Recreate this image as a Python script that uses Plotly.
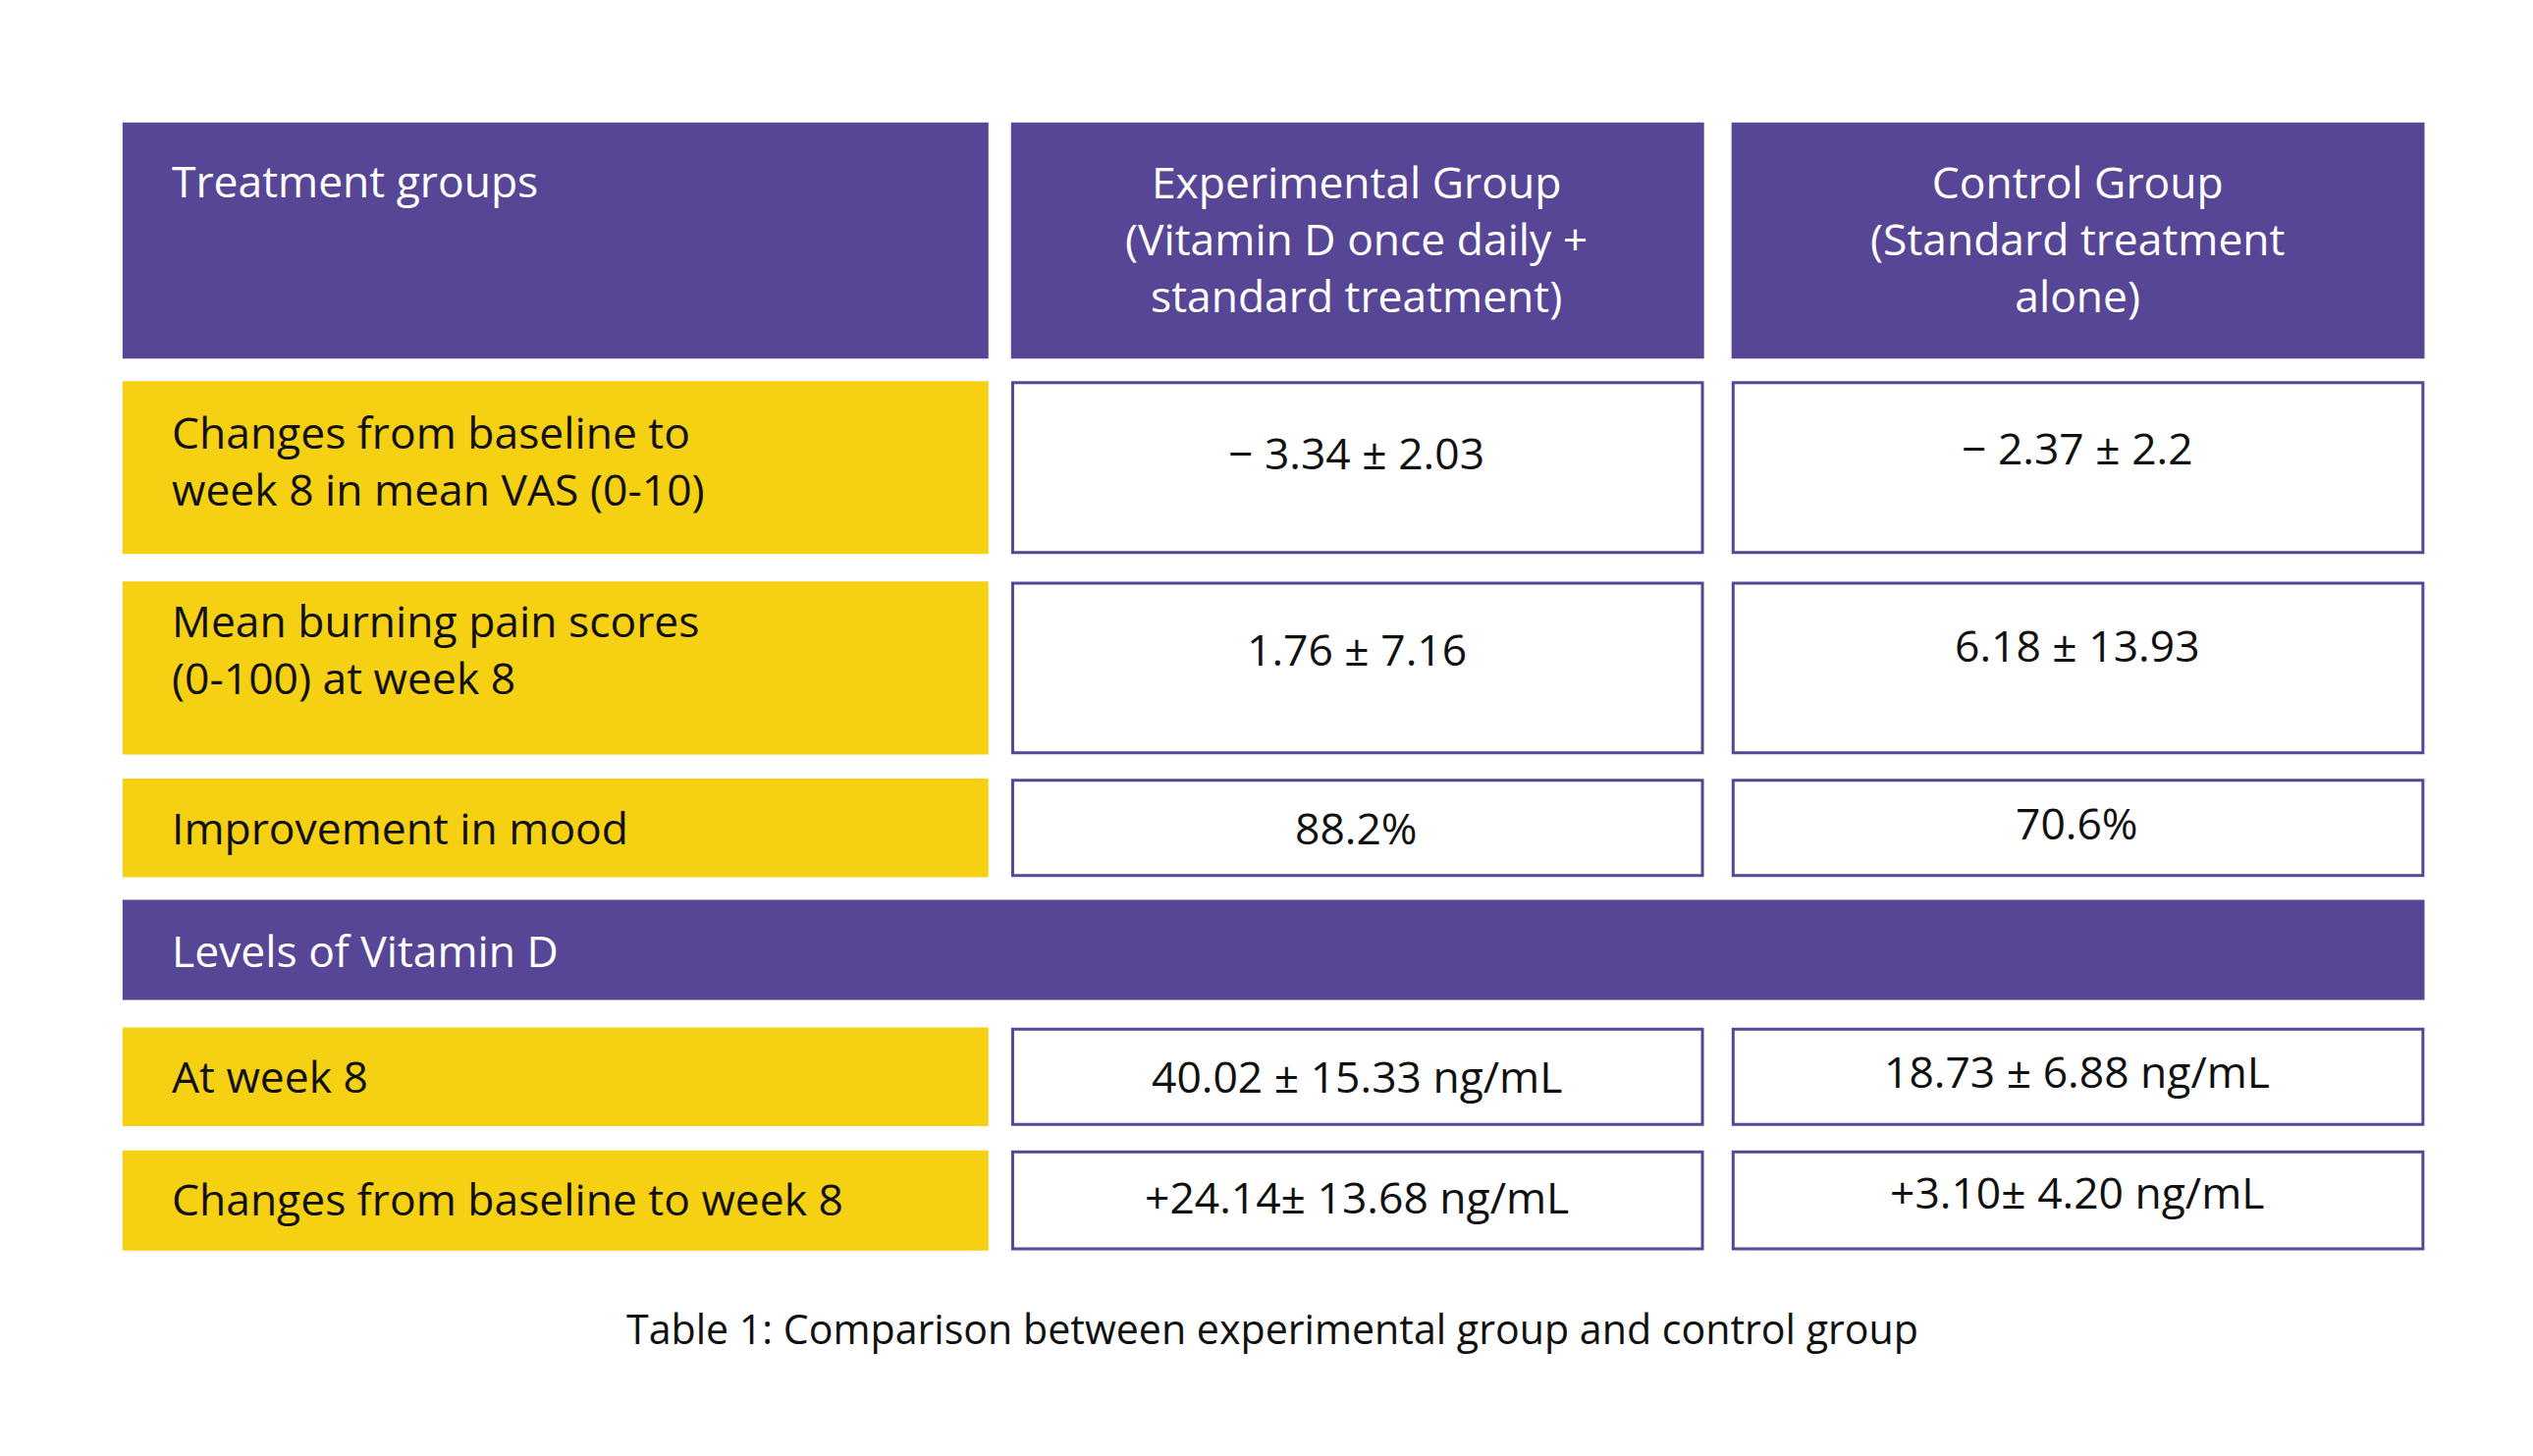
import plotly.graph_objects as go

# table content
header_cols = ["Treatment groups",
               "Experimental Group<br>(Vitamin D once daily +<br>standard treatment)",
               "Control Group<br>(Standard treatment<br>alone)"]
row_labels = ["Changes from baseline to<br>week 8 in mean VAS (0-10)",
              "Mean burning pain scores<br>(0-100) at week 8",
              "Improvement in mood",
              "At week 8",
              "Changes from baseline to week 8"]
exp_values = ["\u2212 3.34 \u00b1 2.03", "1.76 \u00b1 7.16", "88.2%",
              "40.02 \u00b1 15.33 ng/mL", "+24.14\u00b1 13.68 ng/mL"]
ctrl_values = ["\u2212 2.37 \u00b1 2.2", "6.18 \u00b1 13.93", "70.6%",
               "18.73 \u00b1 6.88 ng/mL", "+3.10\u00b1 4.20 ng/mL"]
section_label = "Levels of Vitamin D"
caption = "Table 1: Comparison between experimental group and control group"

PURPLE = "#574696"
YELLOW = "#F6D113"
FONT = "Open Sans"
S = 2580 / 1568  # px per layout unit

cols = [(71, 607), (621, 1050), (1067, 1496)]
rows = [(231, 338), (355, 462), (477, 538), (631, 692), (707, 769)]
text_y = [280, 397, 507, 661, 737]
val_y = [275, 397, 507, 661, 736]

shapes, ann = [], []

def rect(x0, x1, y0, y1, fill, line=None):
    shapes.append(dict(type="rect", xref="x", yref="y", x0=x0, x1=x1, y0=y0, y1=y1,
                       fillcolor=fill, line=dict(color=line or fill, width=3 if line else 0)))

def text(x, y, s, size, color, anchor="left", yanchor="middle"):
    ann.append(dict(x=x, y=y, xref="x", yref="y", text=s, showarrow=False,
                    xanchor=anchor, yanchor=yanchor, align=anchor if anchor != "middle" else "center",
                    font=dict(family=FONT, size=size, color=color)))

fs = 27 * S

# header
for i, (x0, x1) in enumerate(cols):
    rect(x0, x1, 71, 217, PURPLE)
text(100, 107, header_cols[0], fs, "white", "left")
text(835, 143, header_cols[1], fs, "white", "center")
text(1281, 143, header_cols[2], fs, "white", "center")

# body rows
for r, (y0, y1) in enumerate(rows):
    rect(cols[0][0], cols[0][1], y0, y1, YELLOW)
    rect(cols[1][0] + 1, cols[1][1] - 1, y0 + 1, y1 - 1, "white", PURPLE)
    rect(cols[2][0] + 1, cols[2][1] - 1, y0 + 1, y1 - 1, "white", PURPLE)
    text(100, text_y[r], row_labels[r], fs, "#111111", "left")
    text(835, val_y[r], exp_values[r], fs, "#111111", "center")
    text(1281, val_y[r] - 3, ctrl_values[r], fs, "#111111", "center")

# section band
rect(71, 1496, 552, 614, PURPLE)
text(100, 583, section_label, fs, "white", "left")

text(783, 817, caption, 25 * S, "#111111", "center")

fig = go.Figure()
fig.update_layout(
    width=2580, height=1483, margin=dict(l=0, r=0, t=0, b=0),
    paper_bgcolor="white", plot_bgcolor="white",
    xaxis=dict(range=[0, 1568], visible=False, fixedrange=True),
    yaxis=dict(range=[901, 0], visible=False, fixedrange=True),
    shapes=shapes, annotations=ann, showlegend=False,
)
fig.write_html("out.html")
